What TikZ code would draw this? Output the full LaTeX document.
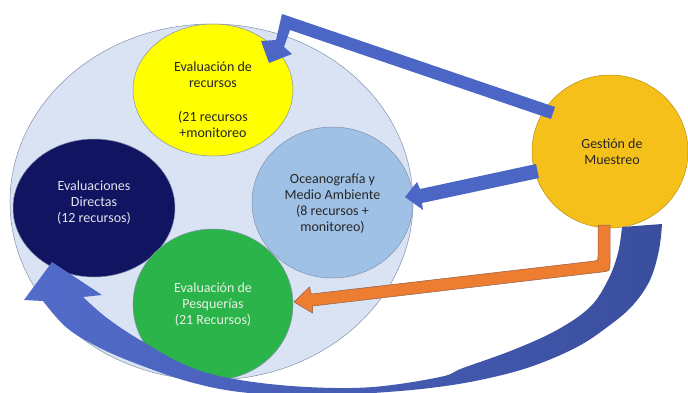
\documentclass[tikz,border=0pt]{standalone}
\usepackage{fontspec}
\setmainfont{Carlito}
\usetikzlibrary{shapes.geometric}
\definecolor{bigfill}{RGB}{218,227,243}
\definecolor{edgegray}{RGB}{130,145,170}
\definecolor{yelfill}{RGB}{255,255,0}
\definecolor{navyfill}{RGB}{17,20,96}
\definecolor{greenfill}{RGB}{43,180,74}
\definecolor{ltbluefill}{RGB}{160,193,230}
\definecolor{gestfill}{RGB}{246,192,26}
\definecolor{arrowblue}{RGB}{76,102,198}
\definecolor{arrowblueL}{RGB}{82,108,202}
\definecolor{arrowblueR}{RGB}{58,78,158}
\definecolor{orangefill}{RGB}{237,125,49}
\definecolor{orangeedge}{RGB}{140,95,75}
\definecolor{darktext}{RGB}{38,38,38}
\definecolor{lighttext}{RGB}{225,228,238}
\definecolor{greentext}{RGB}{232,242,228}
\tikzset{
  blob/.style={ellipse, draw=edgegray, line width=0.5pt, inner sep=0pt},
  lbl/.style={align=center, inner sep=0pt, font=\fontsize{14}{16}\selectfont},
  bluearrow/.style={fill=arrowblue, draw=none},
}
\begin{document}
\begin{tikzpicture}[x=1pt,y=-1pt]
\useasboundingbox (0,0) rectangle (688,392);
% big background ellipse
\node[blob, fill=bigfill, minimum width=403pt, minimum height=356pt] (big) at (211.5,202) {};
% inner circles
\node[blob, fill=yelfill, minimum width=160pt, minimum height=132pt] (yel) at (213,90) {};
\node[blob, fill=navyfill, minimum width=162pt, minimum height=138pt] (navy) at (94,208) {};
\node[blob, fill=ltbluefill, minimum width=161pt, minimum height=151pt] (ocean) at (332.5,202.5) {};
\node[blob, fill=greenfill, minimum width=160pt, minimum height=151pt] (green) at (213,304.5) {};
\node[blob, fill=gestfill, draw=gestfill!75!black, minimum width=156pt, minimum height=153pt] (gest) at (610,151.5) {};
% texts
\node[lbl, text=darktext] (yelT) at (213,100) {Evaluación de\\recursos\\[18pt](21 recursos\\+monitoreo};
\node[lbl, text=lighttext] (navyT) at (94,203) {Evaluaciones\\Directas\\(12 recursos)};
\node[lbl, text=greentext] (greenT) at (213,305) {Evaluación de\\Pesquerías\\(21 Recursos)};
\node[lbl, text=darktext] (oceanT) at (332.5,203.5) {Oceanografía y\\Medio Ambiente\\(8 recursos +\\monitoreo)};
\node[lbl, text=darktext] (gestT) at (612,151.5) {Gestión de\\Muestreo};
% upper elbow arrow (gest -> yel)
\fill[bluearrow] (555,107) -- (282,14) -- (276,40) -- (261,41) -- (269,63) -- (292,54) -- (284,47) -- (290,30) -- (551,119) -- cycle;
% middle arrow (gest -> ocean)
\fill[bluearrow] (405,197) -- (417,182) -- (420,189) -- (536,164) -- (539,178) -- (422,203) -- (423,210) -- cycle;
% orange elbow arrow (gest -> green)
\filldraw[fill=orangefill, draw=orangeedge, line width=0.5pt]
  (598,225) -- (610,225) -- (610,263) .. controls (610,271) .. (602,272)
  -- (312.7,306) -- (312.5,313) -- (294,302) -- (309.5,287) -- (311.3,294)
  -- (592,261.3) .. controls (598,260.6) .. (598,255) -- cycle;
% big curved arrow (gest -> navy)
\shade[left color=arrowblueL, right color=arrowblueR]
  plot[smooth, tension=0.6] coordinates {(662,224) (659,250) (650,280) (633,305) (610,325) (577,347) (530,367) (480,380) (430,388) (373,393) (307,396) (240,392) (190,382) (140,365) (100,348) (67,328) (43,301)}
  -- (24,300) -- (52,262) -- (102,295)
  -- plot[smooth, tension=0.6] coordinates {(83,297) (107,318) (140,340) (190,367) (240,380) (307,387) (373,387) (440,377) (463,368) (513,350) (557,330) (590,307) (608,280) (618,253) (622,227)}
  -- cycle;
\end{tikzpicture}
\end{document}
